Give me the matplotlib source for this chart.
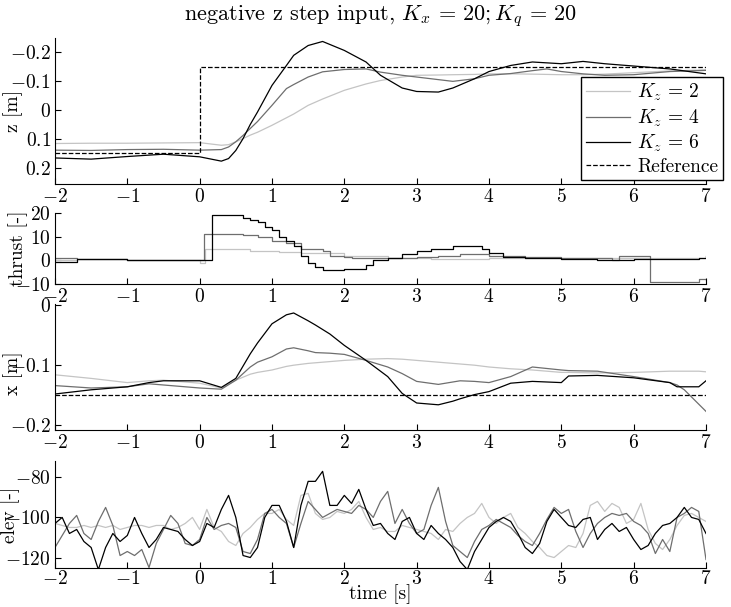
import numpy as np
import matplotlib
matplotlib.use('Agg')
import matplotlib.pyplot as plt

plt.rcParams['font.family'] = 'cmr10'
plt.rcParams['mathtext.fontset'] = 'cm'
plt.rcParams['axes.formatter.use_mathtext'] = True
plt.rcParams['axes.unicode_minus'] = False
plt.rcParams['font.size'] = 14

# ------------------------------------------------------------------------------
# Data
# ------------------------------------------------------------------------------
labels = [r'$K_z\,=\,2$', r'$K_z\,=\,4$', r'$K_z\,=\,6$']
colors = ['#c4c4c4', '#6e6e6e', '#000000']

# z position [m]
t_z = [-2, -1.5, -1, -0.5, 0, 0.3, 0.4, 0.5, 0.6, 0.7, 0.8, 1.0, 1.2, 1.3, 1.5, 1.7,
       2.0, 2.3, 2.5, 2.8, 3.0, 3.3, 3.5, 3.8, 4.0, 4.3, 4.6, 4.8, 5.0, 5.3, 5.6,
       6.0, 6.5, 7.0]
z_kz2 = [0.116, 0.115, 0.115, 0.114, 0.113, 0.122, 0.120, 0.110, 0.099, 0.087, 0.077,
         0.053, 0.027, 0.014, -0.016, -0.038, -0.068, -0.090, -0.102, -0.114, -0.120,
         -0.121, -0.122, -0.123, -0.125, -0.125, -0.124, -0.123, -0.122, -0.122,
         -0.124, -0.129, -0.135, -0.139]
z_kz4 = [0.139, 0.140, 0.137, 0.136, 0.139, 0.137, 0.128, 0.110, 0.088, 0.064, 0.040,
         -0.016, -0.074, -0.088, -0.114, -0.132, -0.140, -0.142, -0.131, -0.120,
         -0.114, -0.105, -0.099, -0.108, -0.120, -0.126, -0.136, -0.142, -0.133,
         -0.125, -0.120, -0.122, -0.133, -0.137]
z_kz6 = [0.166, 0.170, 0.161, 0.153, 0.162, 0.177, 0.168, 0.140, 0.099, 0.050, 0.007,
         -0.085, -0.154, -0.189, -0.223, -0.237, -0.206, -0.166, -0.120, -0.076,
         -0.064, -0.062, -0.076, -0.108, -0.133, -0.154, -0.166, -0.163, -0.160,
         -0.168, -0.160, -0.152, -0.142, -0.125]
t_zref = [-2, 0, 7]
z_ref = [0.15, -0.15, -0.15]

# thrust [-] (zero-order hold)
t_th2 = [-2, -1.7, -1.0, 0.0, 0.08, 0.7, 1.1, 1.4, 2.0, 2.6, 3.2, 4.0, 7.0]
th_kz2 = [0, 0.5, 0, -1, 5, 4, 3.5, 3, 2, 1, 0.5, 1, 1]
t_th4 = [-2, -1.7, -1.0, 0.06, 0.6, 0.8, 1.0, 1.2, 1.4, 1.7, 1.8, 2.0, 2.1, 3.0,
         3.3, 3.6, 4.0, 4.5, 5.0, 5.7, 5.8, 6.22, 6.9, 7.0]
th_kz4 = [1, 0.5, 0, 11, 10.5, 10, 8, 7.5, 5, 4, 2, 1.5, 1, 1.5, 2, 2.5, 2, 1.5, 1,
          0, 2, -9, -8, -8.5]
t_th6 = [-2, -1.7, -1.0, 0.17, 0.6, 0.7, 0.8, 0.9, 1.0, 1.1, 1.2, 1.3, 1.4, 1.5,
         1.6, 1.7, 2.0, 2.3, 2.4, 2.6, 2.8, 3.0, 3.2, 3.5, 3.9, 4.0, 4.2, 4.5, 5.0,
         5.5, 6.0, 6.9, 7.0]
th_kz6 = [-0.5, 0.5, 0, 19, 18, 17, 16, 14, 13, 10, 8, 6, 2, -1, -3, -4, -3.5, -2,
          0, 1, 2.5, 4, 5, 6, 5, 3, 1.5, 1, 0.5, 0, 0.5, 1, 2]

# x position [m]
t_x = [-2, -1.5, -1, -0.7, -0.5, 0, 0.3, 0.5, 0.7, 0.8, 1.0, 1.2, 1.3, 1.5, 1.6,
       1.8, 2.0, 2.3, 2.6, 2.8, 3.0, 3.3, 3.5, 3.6, 3.8, 4.0, 4.3, 4.6, 5.0, 5.1,
       5.5, 6.0, 6.5, 6.6, 6.7, 6.9, 7.0]
x_kz2 = [-0.116, -0.122, -0.129, -0.126, -0.125, -0.130, -0.138, -0.125, -0.115,
         -0.112, -0.108, -0.102, -0.100, -0.097, -0.096, -0.094, -0.092, -0.090,
         -0.089, -0.090, -0.092, -0.095, -0.097, -0.098, -0.100, -0.103, -0.106,
         -0.108, -0.112, -0.112, -0.113, -0.112, -0.110, -0.110, -0.110, -0.110,
         -0.111]
x_kz4 = [-0.134, -0.138, -0.136, -0.131, -0.133, -0.138, -0.140, -0.125, -0.103,
         -0.095, -0.086, -0.073, -0.071, -0.076, -0.079, -0.080, -0.082, -0.092,
         -0.103, -0.114, -0.127, -0.132, -0.128, -0.126, -0.127, -0.129, -0.119,
         -0.103, -0.108, -0.109, -0.110, -0.119, -0.129, -0.133, -0.141, -0.165,
         -0.177]
x_kz6 = [-0.148, -0.141, -0.136, -0.129, -0.126, -0.126, -0.137, -0.122, -0.081,
         -0.063, -0.031, -0.016, -0.013, -0.026, -0.033, -0.048, -0.067, -0.092,
         -0.119, -0.147, -0.163, -0.166, -0.160, -0.156, -0.149, -0.144, -0.130,
         -0.127, -0.129, -0.118, -0.117, -0.121, -0.129, -0.136, -0.136, -0.136,
         -0.126]
t_xref = [-2, 7]
x_ref = [-0.15, -0.15]

# elevator [-]
t_el = np.round(np.arange(-2.0, 7.01, 0.1), 1)
el_kz2 = [-103, -104, -105, -105, -104, -105, -104, -105, -104, -106,
          -105, -104, -104, -105, -104, -104, -106, -105, -103, -100,
          -106, -96, -105, -107, -112, -114, -108, -105, -101, -98,
          -98, -96, -101, -104, -89, -88, -98, -101, -100, -97,
          -98, -96, -92, -100, -106, -105, -107, -107, -104, -105,
          -106, -107, -108, -111, -106, -107, -103, -100, -98, -93,
          -100, -103, -100, -98, -105, -108, -112, -115, -119, -120,
          -117, -114, -115, -108, -94, -92, -97, -93, -95, -103,
          -101, -93, -106, -113, -116, -111, -104, -99, -98, -100,
          -102]
el_kz4 = [-115, -109, -103, -99, -108, -111, -102, -95, -104, -119,
          -117, -119, -116, -125, -113, -106, -99, -103, -113, -114,
          -111, -100, -106, -104, -103, -105, -117, -118, -111, -98,
          -96, -100, -103, -115, -103, -92, -96, -100, -98, -96,
          -97, -98, -94, -96, -100, -92, -87, -103, -96, -103,
          -108, -106, -94, -85, -102, -114, -117, -120, -112, -106,
          -104, -101, -103, -105, -109, -112, -114, -108, -101, -95,
          -98, -96, -107, -115, -108, -103, -100, -98, -99, -98,
          -102, -104, -108, -118, -111, -117, -100, -98, -95, -97,
          -121]
el_kz6 = [-103, -100, -108, -106, -112, -115, -126, -115, -108, -112,
          -109, -100, -108, -115, -111, -105, -106, -107, -111, -114,
          -112, -103, -105, -96, -89, -100, -119, -120, -115, -100,
          -94, -94, -102, -115, -94, -82, -82, -77, -94, -94,
          -89, -93, -86, -96, -104, -103, -108, -111, -102, -100,
          -108, -111, -104, -108, -111, -115, -122, -126, -117, -111,
          -105, -102, -100, -102, -108, -115, -118, -113, -102, -96,
          -100, -104, -105, -101, -100, -111, -106, -103, -107, -105,
          -111, -116, -114, -108, -104, -103, -100, -95, -100, -101,
          -108]

# ------------------------------------------------------------------------------
# Figure
# ------------------------------------------------------------------------------
fig = plt.figure(figsize=(7.31, 6.07), dpi=100)
L, W = 0.0752, 0.8906
ax1 = fig.add_axes([L, 0.6969, W, 0.2405])
ax2 = fig.add_axes([L, 0.5321, W, 0.117])
ax3 = fig.add_axes([L, 0.2916, W, 0.2076])
ax4 = fig.add_axes([L, 0.0650, W, 0.175])

lw = 0.9
for z, c, lab in zip([z_kz2, z_kz4, z_kz6], colors, labels):
    ax1.plot(t_z, z, color=c, lw=lw, label=lab)
ax1.plot(t_zref, z_ref, 'k--', lw=lw, drawstyle='steps-post', label='Reference')

for t, th, c in zip([t_th2, t_th4, t_th6], [th_kz2, th_kz4, th_kz6], colors):
    ax2.plot(t, th, color=c, lw=lw, drawstyle='steps-post')

for xx, c in zip([x_kz2, x_kz4, x_kz6], colors):
    ax3.plot(t_x, xx, color=c, lw=lw)
ax3.plot(t_xref, x_ref, 'k--', lw=lw)

for el, c in zip([el_kz2, el_kz4, el_kz6], colors):
    ax4.plot(t_el, el, color=c, lw=lw)

ax1.set_ylim(0.256, -0.249)
ax1.set_yticks([-0.2, -0.1, 0, 0.1, 0.2],
               ['$-0.2$', '$-0.1$', '$0$', '$0.1$', '$0.2$'])
ax1.set_ylabel('z [m]')
ax1.set_title(r'negative z step input, $K_x\,=\,20; K_q\,=\,20$', fontsize=16, pad=13)

ax2.set_ylim(-10, 20)
ax2.set_yticks([-10, 0, 10, 20], ['$-10$', '$0$', '$10$', '$20$'])
ax2.set_ylabel('thrust [-]')

ax3.set_ylim(-0.208, 0.002)
ax3.set_yticks([-0.2, -0.1, 0], ['$-0.2$', '$-0.1$', '$0$'])
ax3.set_ylabel('x [m]')

ax4.set_ylim(-125, -72)
ax4.set_yticks([-120, -100, -80], ['$-120$', '$-100$', '$-80$'])
ax4.set_ylabel('elev [-]')

for ax, lx, ly in zip([ax1, ax2, ax3, ax4], [-0.049, -0.041, -0.049, -0.054],
                      [0.5, 0.5, 0.45, 0.5]):
    ax.set_xlim(-2, 7)
    ax.set_xticks(range(-2, 8), ['$%d$' % v for v in range(-2, 8)])
    ax.spines['top'].set_visible(False)
    ax.spines['right'].set_visible(False)
    ax.tick_params(direction='in', length=4, width=0.8, pad=3)
    ax.yaxis.set_label_coords(lx, ly)

ax4.tick_params(axis='x', pad=2)
ax4.set_xlabel('time [s]', labelpad=-3)

ax1.legend(loc='upper right', bbox_to_anchor=(1.026, 0.731), fancybox=False,
           edgecolor='black', framealpha=1, handlelength=2.3, labelspacing=0.2,
           borderpad=0.25, handletextpad=0.35, borderaxespad=0, fontsize=14)

fig.savefig('out.png', dpi=100)
